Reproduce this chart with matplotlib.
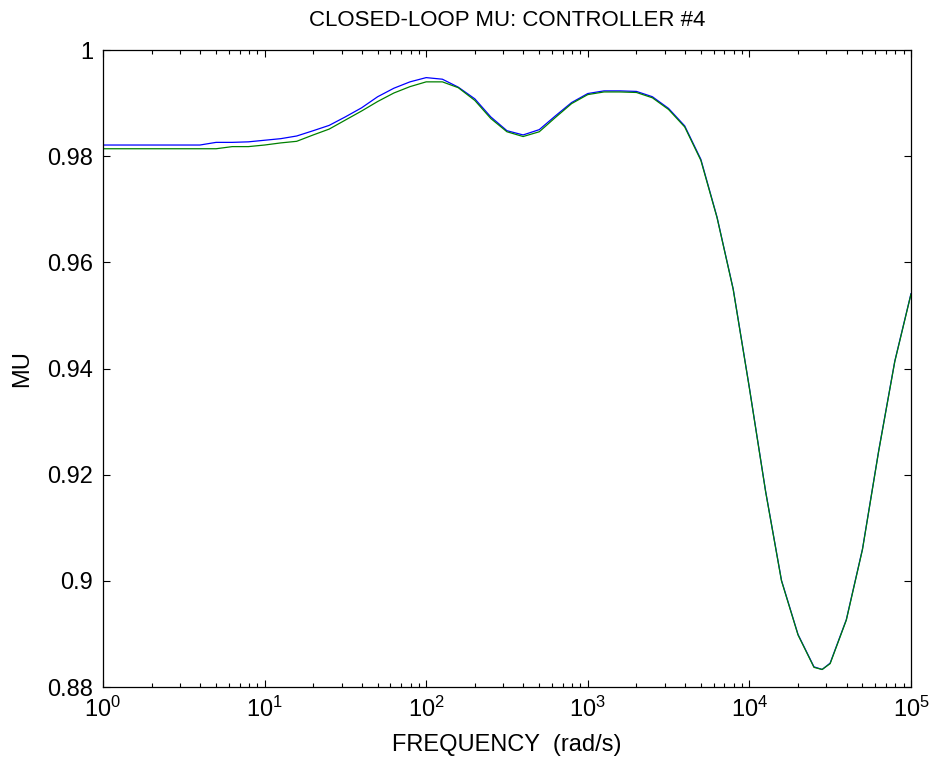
import matplotlib
matplotlib.use('Agg')
import matplotlib.pyplot as plt
import matplotlib as mpl
from matplotlib.ticker import FuncFormatter, LogLocator, FixedLocator

mpl.rcParams['font.family'] = ['Liberation Sans', 'DejaVu Sans']
mpl.rcParams['font.size'] = 17.0
mpl.rcParams['mathtext.fontset'] = 'custom'
mpl.rcParams['mathtext.rm'] = 'Liberation Sans'

# frequency grid (rad/s)
freq = [1, 3.98, 5.01, 6.31, 7.94, 10, 12.6, 15.8, 20.0, 25.1, 31.6, 39.8, 50.1,
        63.1, 79.4, 100, 126, 158, 200, 251, 316, 398, 501, 631, 794, 1000,
        1260, 1580, 2000, 2510, 3160, 3980, 5010, 6310, 7940, 10000, 12600,
        15800, 20000, 25100, 28200, 31600, 39800, 50100, 63100, 79400, 100000]

# upper curve (blue)
mu_blue = [0.9821, 0.9821, 0.9826, 0.9826, 0.9827, 0.9830, 0.9833, 0.9838, 0.9848,
           0.9858, 0.9874, 0.9891, 0.9912, 0.9928, 0.9940, 0.9948, 0.9945, 0.9930,
           0.9908, 0.9874, 0.9848, 0.9840, 0.9850, 0.9876, 0.9901, 0.9918, 0.9923,
           0.9923, 0.9922, 0.9912, 0.9890, 0.9857, 0.9794, 0.9685, 0.9550, 0.9364,
           0.9169, 0.9001, 0.8899, 0.8838, 0.8833, 0.8845, 0.8927, 0.9060, 0.9245,
           0.9414, 0.9541]

# lower curve (green)
mu_green = [0.9814, 0.9814, 0.9814, 0.9818, 0.9818, 0.9821, 0.9825, 0.9828, 0.9840,
            0.9851, 0.9868, 0.9885, 0.9903, 0.9919, 0.9931, 0.9940, 0.9940, 0.9929,
            0.9905, 0.9871, 0.9846, 0.9837, 0.9846, 0.9873, 0.9899, 0.9916, 0.9921,
            0.9921, 0.9920, 0.9910, 0.9888, 0.9855, 0.9792, 0.9684, 0.9549, 0.9363,
            0.9168, 0.9000, 0.8898, 0.8837, 0.8833, 0.8844, 0.8926, 0.9059, 0.9244,
            0.9413, 0.9540]

y_ticks = [0.88, 0.90, 0.92, 0.94, 0.96, 0.98, 1.00]

fig = plt.figure(figsize=(9.31, 7.67), dpi=100)
ax = fig.add_axes([0.1106, 0.1043, 0.8679, 0.8305])

ax.semilogx(freq, mu_blue, color='#0000ff', linewidth=0.9)
ax.semilogx(freq, mu_green, color='#008000', linewidth=0.9)

ax.set_xlim(1, 1e5)
ax.set_ylim(0.88, 1.0)

ax.yaxis.set_major_locator(FixedLocator(y_ticks))
ax.yaxis.set_major_formatter(FuncFormatter(lambda v, p: '%g' % round(v, 4)))
ax.xaxis.set_major_locator(LogLocator(base=10, numticks=10))
ax.xaxis.set_minor_locator(LogLocator(base=10, subs=range(2, 10), numticks=20))

ax.tick_params(which='both', direction='in', top=True, right=True, color='black')
ax.tick_params(which='major', length=5, width=0.8, labelsize=17)
ax.tick_params(axis='y', which='major', pad=7)
ax.tick_params(axis='x', which='major', pad=7)
ax.tick_params(which='minor', length=3, width=0.8)
for s in ax.spines.values():
    s.set_linewidth(0.9)

ax.set_title('CLOSED-LOOP MU: CONTROLLER #4', fontsize=16, pad=17)
ax.set_xlabel('FREQUENCY  (rad/s)', fontsize=17, labelpad=9)
ax.set_ylabel('MU', fontsize=17, labelpad=10)

fig.savefig('out.png', dpi=100)
